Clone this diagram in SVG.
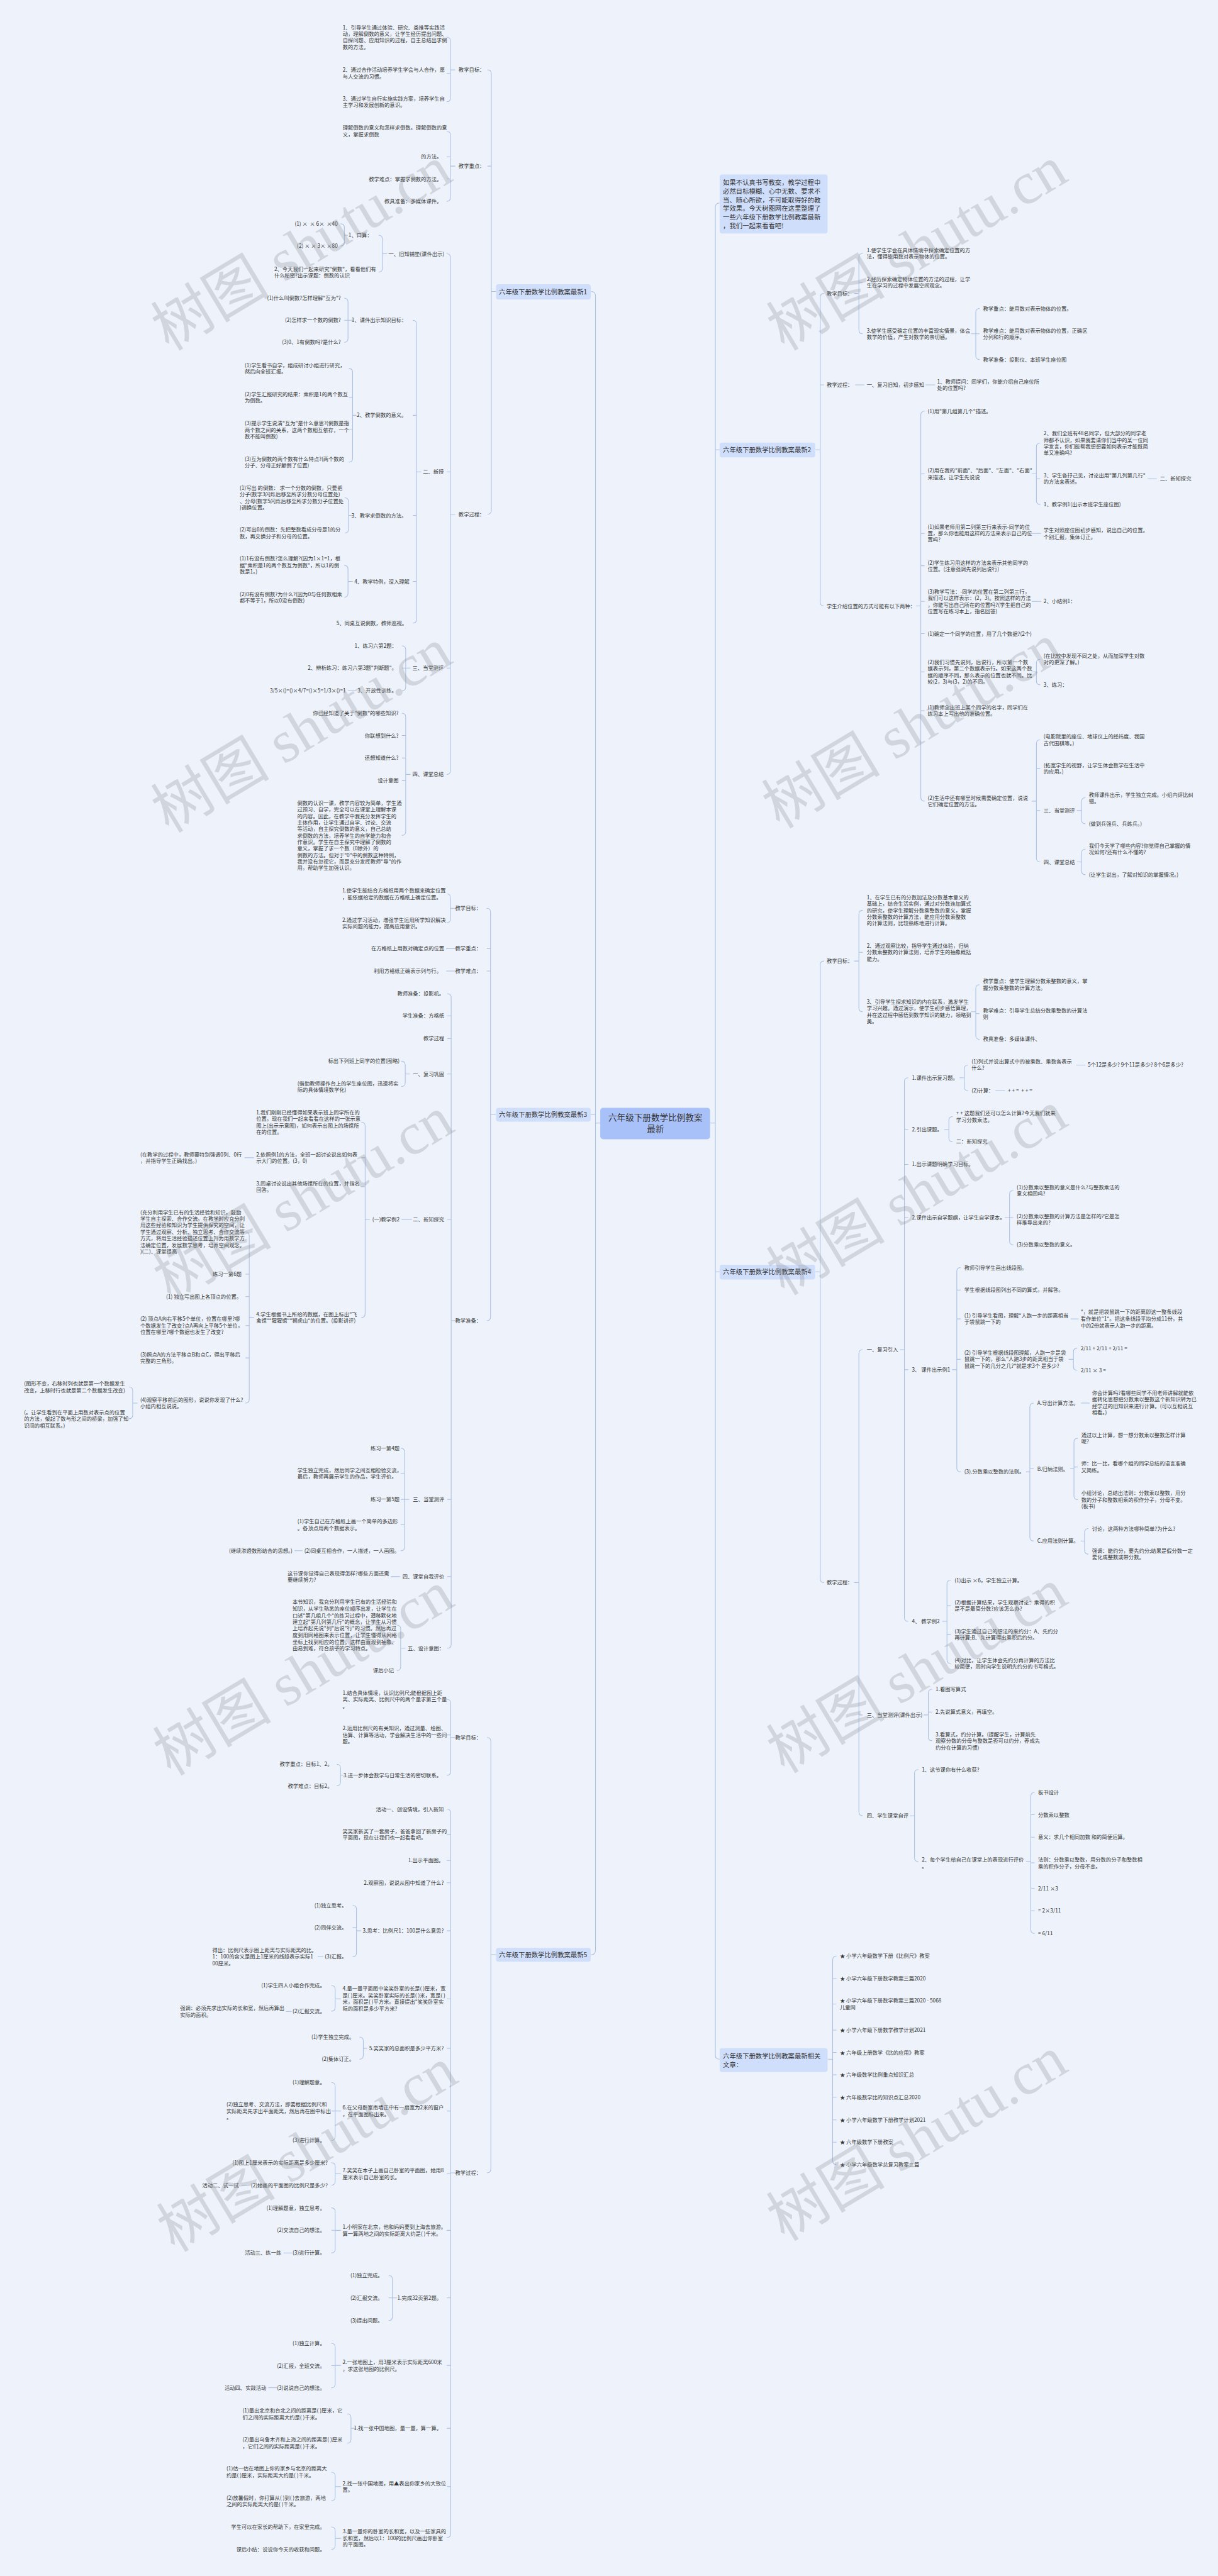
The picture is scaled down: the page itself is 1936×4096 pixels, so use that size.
<svg xmlns="http://www.w3.org/2000/svg" width="1936" height="4096" viewBox="0 0 1936 4096">
<style>
.t{font-family:"Noto Sans CJK SC","Noto Sans",sans-serif;font-size:11px;fill:#333}
.e{text-anchor:end}
.m{font-size:13.7px}
.c{font-size:18px;text-anchor:middle}
.p{white-space:pre}
.l path{fill:none;stroke:#a9c0e4;stroke-width:1.4}
.nb{fill:#cfdefb}
.w{font-family:"Liberation Serif","Noto Sans CJK SC",serif;font-size:125px;fill:#8d939c;opacity:.3;text-anchor:middle}
</style>
<rect width="1936" height="4096" fill="#eef3fb"/>
<g transform="scale(0.756)">
<g id="connectors" class="l">
<path d="M1262 2362H1252M1243 613Q1252 613 1252 622V4102Q1252 4111 1243 4111M1252 2344H1242"/>
<path d="M1493 2362H1504M1513 427Q1504 427 1504 436V4322Q1504 4331 1513 4331M1504 946H1513M1504 2675H1513"/>
<path d="M1033 613h10M1025 147Q1033 147 1033 155V1073.4Q1033 1081.4 1025 1081.4M1033 349.4h-8"/>
<path d="M947 147h10M939 78Q947 78 947 86V206Q947 214 939 214M947 154h-8"/>
<path d="M947 349.4h10M939 276Q947 276 947 284V415.5Q947 423.5 939 423.5M947 329.7h-8M947 376.3h-8"/>
<path d="M947 1081.4h10M939 533.7Q947 533.7 947 541.7V1620.8Q947 1628.8 939 1628.8M947 992.5h-8M947 1405h-8"/>
<path d="M804 533.7h10M796 494.8Q804 494.8 804 502.8V564Q804 572 796 572"/>
<path d="M724 494.8h8M716 470.7Q724 470.7 724 478.7V509.3Q724 517.3 716 517.3"/>
<path d="M875.7 992.5h10M867.7 673.6Q875.7 673.6 875.7 681.6V1302.6Q875.7 1310.6 867.7 1310.6M875.7 873.5h-8M875.7 1084h-8M875.7 1222.9h-8"/>
<path d="M731.7 673.6h10M723.7 627Q731.7 627 731.7 635V712Q731.7 720 723.7 720M731.7 673.6h-8"/>
<path d="M741.4 873.5h8M733.4 775Q741.4 775 741.4 783V964Q741.4 972 733.4 972M741.4 836h-8M741.4 904h-8"/>
<path d="M732.7 1084h10M724.7 1047Q732.7 1047 732.7 1055V1113Q732.7 1121 724.7 1121"/>
<path d="M731.7 1222.9h10M723.7 1189Q731.7 1189 731.7 1197V1248Q731.7 1256 723.7 1256"/>
<path d="M853 1405h10M845 1358.4Q853 1358.4 853 1366.4V1444.7Q853 1452.7 845 1452.7M853 1405h-8"/>
<path d="M731 1452.7H748"/>
<path d="M853 1628.8h10M845 1500Q853 1500 853 1508V1749Q853 1757 845 1757M853 1547h-8M853 1594.3h-8M853 1642h-8"/>
<path d="M1031.4 2344h11M1023.4 1910.5Q1031.4 1910.5 1031.4 1918.5V2769.7Q1031.4 2777.7 1023.4 2777.7M1031.4 1995.3h-8M1031.4 2042.4h-8"/>
<path d="M947 1910.5h10M939 1880Q947 1880 947 1888V1933Q947 1941 939 1941"/>
<path d="M938 1995.3H957M938 2042.4H957"/>
<path d="M948.6 2777.7h10M940.6 2090Q948.6 2090 948.6 2098V3458.5Q948.6 3466.5 940.6 3466.5M948.6 2136.7h-8M948.6 2184.4h-8M948.6 2259h-8M948.6 2564.9h-8M948.6 3153.7h-8M948.6 3316h-8"/>
<path d="M852 2259h10M844 2232Q852 2232 852 2240V2277Q852 2285 844 2285"/>
<path d="M844 2564.9H866"/>
<path d="M767.7 2564.9h10M759.7 2360Q767.7 2360 767.7 2368V2763Q767.7 2771 759.7 2771M767.7 2435h-8M767.7 2496h-8"/>
<path d="M514 2435H534"/>
<path d="M524 2771h10M516 2591Q524 2591 524 2599V2943Q524 2951 516 2951M524 2680h-8M524 2727.2h-8M524 2788h-8M524 2856h-8"/>
<path d="M279 2951h10M271 2917Q279 2917 279 2925V2976Q279 2984 271 2984"/>
<path d="M850.5 3153.7h10M842.5 3045.8Q850.5 3045.8 850.5 3053.8V3253.6Q850.5 3261.6 842.5 3261.6M850.5 3099h-8M850.5 3153.7h-8M850.5 3207h-8"/>
<path d="M619 3261.6H636M821.5 3316H841"/>
<path d="M842.4 3466.5h10M834.4 3418Q842.4 3418 842.4 3426V3505.6Q842.4 3513.6 834.4 3513.6"/>
<path d="M1032 4111h11M1024 3654.4Q1032 3654.4 1032 3662.4V4562Q1032 4570 1024 4570"/>
<path d="M947.5 3654.4h10M939.5 3574Q947.5 3574 947.5 3582V3725.75Q947.5 3733.75 939.5 3733.75M947.5 3649h-8"/>
<path d="M716 3733.75h6M708 3710.6Q716 3710.6 716 3718.6V3748Q716 3756 708 3756"/>
<path d="M947.5 4570h10M939.5 3805Q947.5 3805 947.5 3813V5329Q947.5 5337 939.5 5337M947.5 3859h-8M947.5 3913h-8M947.5 3960h-8M947.5 4061h-8M947.5 4204h-8M947.5 4308h-8M947.5 4440h-8M947.5 4572h-8M947.5 4691h-8M947.5 4833h-8M947.5 4975h-8M947.5 5107.3h-8M947.5 5230h-8"/>
<path d="M749.5 4061h10M741.5 4007.5Q749.5 4007.5 749.5 4015.5V4107.6Q749.5 4115.6 741.5 4115.6M749.5 4054.4h-8"/>
<path d="M668 4115.6H680"/>
<path d="M704.7 4204h12M696.7 4176Q704.7 4176 704.7 4184V4222Q704.7 4230 696.7 4230"/>
<path d="M601 4230.6H613"/>
<path d="M763.8 4308h8M755.8 4284.4Q763.8 4284.4 763.8 4292.4V4323Q763.8 4331 755.8 4331"/>
<path d="M704.7 4440h12M696.7 4380Q704.7 4380 704.7 4388V4493.6Q704.7 4501.6 696.7 4501.6M704.7 4440h-8"/>
<path d="M704.7 4572h12M696.7 4548.8Q704.7 4548.8 704.7 4556.8V4588Q704.7 4596 696.7 4596"/>
<path d="M508 4596H527"/>
<path d="M704.7 4691h12M696.7 4643.7Q704.7 4643.7 704.7 4651.7V4730.6Q704.7 4738.6 696.7 4738.6M704.7 4690.9h-8"/>
<path d="M596 4738.6H614"/>
<path d="M825 4833h10M817 4785.8Q825 4785.8 825 4793.8V4872.7Q825 4880.7 817 4880.7M825 4833h-8"/>
<path d="M704.7 4975h12M696.7 4928.5Q704.7 4928.5 704.7 4936.5V5014Q704.7 5022 696.7 5022M704.7 4975.6h-8"/>
<path d="M564 5022H582"/>
<path d="M738 5107.3h10M730 5077Q738 5077 738 5085V5130.5Q738 5138.5 730 5138.5"/>
<path d="M704.7 5230h12M696.7 5199.7Q704.7 5199.7 704.7 5207.7V5251.7Q704.7 5259.7 696.7 5259.7"/>
<path d="M704.7 5338.8h12M696.7 5314.9Q704.7 5314.9 704.7 5322.9V5354Q704.7 5362 696.7 5362"/>
<path d="M1724.5 946h-10M1732.5 617.2Q1724.5 617.2 1724.5 625.2V1266.5Q1724.5 1274.5 1732.5 1274.5M1724.5 809.6h8"/>
<path d="M1805.8 617.2h-10M1813.8 533Q1805.8 533 1805.8 541V694Q1805.8 702 1813.8 702M1805.8 594h8"/>
<path d="M2051.6 702h-10M2059.6 648.9Q2051.6 648.9 2051.6 656.9V748Q2051.6 756 2059.6 756M2051.6 702h8"/>
<path d="M1798 809.6H1817M1946 809.6H1966"/>
<path d="M1936 1274.5h-10M1944 864.7Q1936 864.7 1936 872.7V1677Q1936 1685 1944 1685M1936 996.6h8M1936 1122h8M1936 1190h8M1936 1265h8M1936 1332.7h8M1936 1413h8M1936 1494.6h8"/>
<path d="M2179 996.6h-10M2187 932Q2179 932 2179 940V1053Q2179 1061 2187 1061M2179 1007h8"/>
<path d="M2413 1007H2432M2169 1122H2189M2169 1265H2189"/>
<path d="M2179 1413h-10M2187 1386.5Q2179 1386.5 2179 1394.5V1432.3Q2179 1440.3 2187 1440.3"/>
<path d="M2179 1685h-10M2187 1556Q2179 1556 2179 1564V1804.8Q2179 1812.8 2187 1812.8M2179 1616.6h8M2179 1704.6h8"/>
<path d="M2274 1704.6h-10M2282 1678Q2274 1678 2274 1686V1724.7Q2274 1732.7 2282 1732.7"/>
<path d="M2274 1812.8h-10M2282 1786Q2274 1786 2274 1794V1831.8Q2274 1839.8 2282 1839.8"/>
<path d="M1724.5 2675h-10M1732.5 2021.3Q1724.5 2021.3 1724.5 2029.3V3320.5Q1724.5 3328.5 1732.5 3328.5"/>
<path d="M1805.8 2021.3h-10M1813.8 1914.5Q1805.8 1914.5 1805.8 1922.5V2120Q1805.8 2128 1813.8 2128M1805.8 2003h8"/>
<path d="M2051.6 2128h-10M2059.6 2071Q2051.6 2071 2051.6 2079V2177.8Q2051.6 2185.8 2059.6 2185.8M2051.6 2132h8"/>
<path d="M1805.8 3328.5h-10M1813.8 2838.7Q1805.8 2838.7 1805.8 2846.7V3811Q1805.8 3819 1813.8 3819M1805.8 3607h8"/>
<path d="M1901.5 2838.7h-10M1909.5 2266.8Q1901.5 2266.8 1901.5 2274.8V3402Q1901.5 3410 1909.5 3410M1901.5 2375.3h8M1901.5 2449h8M1901.5 2560.8h8M1901.5 2880.8h8"/>
<path d="M2027.5 2266.8h-10M2035.5 2240Q2027.5 2240 2027.5 2248V2286Q2027.5 2294 2035.5 2294"/>
<path d="M2263 2240H2282M2093 2294H2113"/>
<path d="M1995 2375.3h-10M2003 2348.5Q1995 2348.5 1995 2356.5V2393.4Q1995 2401.4 2003 2401.4"/>
<path d="M2122.6 2560.8h-10M2130.6 2503.7Q2122.6 2503.7 2122.6 2511.7V2610Q2122.6 2618 2130.6 2618M2122.6 2560.8h8"/>
<path d="M2011.7 2880.8h-10M2019.7 2666Q2011.7 2666 2011.7 2674V3087.7Q2011.7 3095.7 2019.7 3095.7M2011.7 2713.3h8M2011.7 2774h8M2011.7 2859h8"/>
<path d="M2251 2774H2268"/>
<path d="M2256.9 2859h-10M2264.9 2835.5Q2256.9 2835.5 2256.9 2843.5V2874Q2256.9 2882 2264.9 2882"/>
<path d="M2165.3 3095.7h-8M2173.3 2951Q2165.3 2951 2165.3 2959V3233Q2165.3 3241 2173.3 3241M2165.3 3089.3h8"/>
<path d="M2273 2951H2291"/>
<path d="M2258 3089.3h-8M2266 3025Q2258 3025 2258 3033V3146Q2258 3154 2266 3154M2258 3085.5h8"/>
<path d="M2280.3 3241h-8M2288.3 3215Q2280.3 3215 2280.3 3223V3260.7Q2280.3 3268.7 2288.3 3268.7"/>
<path d="M1991 3410h-10M1999 3323.4Q1991 3323.4 1991 3331.4V3490.7Q1991 3498.7 1999 3498.7M1991 3377h8M1991 3438h8"/>
<path d="M1951.8 3607h-10M1959.8 3553Q1951.8 3553 1951.8 3561V3653Q1951.8 3661 1959.8 3661M1951.8 3600.8h8"/>
<path d="M1922.8 3819h-10M1930.8 3722Q1922.8 3722 1922.8 3730V3907Q1922.8 3915 1930.8 3915"/>
<path d="M2167.3 3915h-10M2175.3 3769.8Q2167.3 3769.8 2167.3 3777.8V4058.5Q2167.3 4066.5 2175.3 4066.5M2167.3 3816.8h8M2167.3 3864h8M2167.3 3918h8M2167.3 3971.8h8M2167.3 4018.9h8"/>
<path d="M1750.7 4331h-10M1758.7 4114.2Q1750.7 4114.2 1750.7 4122.2V4544.8Q1750.7 4552.8 1758.7 4552.8M1750.7 4161.3h8M1750.7 4215h8M1750.7 4269.8h8M1750.7 4316.8h8M1750.7 4363.9h8M1750.7 4411h8M1750.7 4458.6h8M1750.7 4505.7h8"/>
</g>

<g id="center"><rect x="1262" y="2330" width="231" height="66" rx="6" fill="#a8c2f9"/><text class="t c" x="1378" y="2356.5">六年级下册数学比例教案</text><text class="t c" x="1378" y="2381.5">最新</text></g>
<g id="intro"><rect class="nb" x="1513" y="367" width="227" height="124" rx="5"/><text class="t m"><tspan x="1520" y="388.6">如果不认真书写教案，教学过程中</tspan><tspan x="1520" y="407">必然目标模糊、心中无数、要求不</tspan><tspan x="1520" y="425.3">当、随心所欲，不可能取得好的教</tspan><tspan x="1520" y="443.7">学效果。今天树图网在这里整理了</tspan><tspan x="1520" y="462">一些六年级下册数学比例教案最新</tspan><tspan x="1520" y="480.4">，我们一起来看看吧!</tspan></text></g>
<g id="n1"><rect class="nb" x="1043" y="598" width="199" height="32" rx="5"/><text class="t m" x="1049" y="618.5">六年级下册数学比例教案最新1</text></g>
<g id="n3"><rect class="nb" x="1043" y="2330" width="199" height="29" rx="5"/><text class="t m" x="1049" y="2349">六年级下册数学比例教案最新3</text></g>
<g id="n5"><rect class="nb" x="1043" y="4097" width="199" height="29" rx="5"/><text class="t m" x="1049" y="4116">六年级下册数学比例教案最新5</text></g>
<g id="n2"><rect class="nb" x="1513" y="931" width="201" height="31" rx="5"/><text class="t m" x="1520" y="951">六年级下册数学比例教案最新2</text></g>
<g id="n4"><rect class="nb" x="1513" y="2660" width="201" height="31" rx="5"/><text class="t m" x="1520" y="2680">六年级下册数学比例教案最新4</text></g>
<g id="n6"><rect class="nb" x="1513" y="4308" width="227" height="50" rx="5"/><text class="t m"><tspan x="1520" y="4330">六年级下册数学比例教案最新相关</tspan><tspan x="1520" y="4348">文章：</tspan></text></g>

<g id="s1">
<text id="a1" class="t e" x="1019" y="151">教学目标：</text>
<text id="a2" class="t"><tspan x="720.5" y="61.6">1、引导学生通过体验、研究、类推等实践活</tspan><tspan x="720.5" y="75.3">动，理解倒数的意义，让学生经历提出问题、</tspan><tspan x="720.5" y="89">自探问题、应用知识的过程，自主总结出求倒</tspan><tspan x="720.5" y="102.7">数的方法。</tspan></text>
<text id="a3" class="t"><tspan x="720.5" y="151">2、通过合作活动培养学生学会与人合作，愿</tspan><tspan x="720.5" y="164.7">与人交流的习惯。</tspan></text>
<text id="a4" class="t"><tspan x="720.5" y="211.4">3、通过学生自行实施实践方案，培养学生自</tspan><tspan x="720.5" y="225">主学习和发展创新的意识。</tspan></text>
<text id="a5" class="t e" x="1019" y="353.4">教学重点：</text>
<text id="a6" class="t"><tspan x="720.5" y="272.8">理解倒数的意义和怎样求倒数。理解倒数的意</tspan><tspan x="720.5" y="286.5">义，掌握求倒数</tspan></text>
<text id="a7" class="t e" x="929" y="333.7">的方法。</text>
<text id="a8" class="t e" x="929" y="380.3">教学难点：掌握求倒数的方法。</text>
<text id="a9" class="t e" x="929" y="427.5">教具准备：多媒体课件。</text>
<text id="a10" class="t e" x="1019" y="1085.4">教学过程：</text>
<text id="a11" class="t e" x="934" y="537.7">一、旧知铺垫(课件出示)</text>
<text id="a12" class="t e" x="782.6" y="498.8">1、口算：</text>
<text id="a13" class="t e p" x="710" y="474.7">(1) ×  × 6×  ×40</text>
<text id="a14" class="t e p" x="710" y="521.3">(2) × × 3× ×80</text>
<text id="a15" class="t"><tspan x="576.6" y="569.6">2、今天我们一起来研究"倒数"，看看他们有</tspan><tspan x="576.6" y="583.3">什么秘密?出示课题：倒数的认识</tspan></text>
<text id="a16" class="t e" x="933" y="996.5">二、新授</text>
<text id="a17" class="t e" x="855" y="677.6">1、课件出示知识目标：</text>
<text id="a18" class="t e" x="716.7" y="631">(1)什么叫倒数?怎样理解"互为"?</text>
<text id="a19" class="t e" x="716.7" y="677.6">(2)怎样求一个数的倒数?</text>
<text id="a20" class="t e" x="716.7" y="724">(3)0、1有倒数吗?是什么?</text>
<text id="a21" class="t e" x="855" y="877.5">2、教学倒数的意义。</text>
<text id="a22" class="t"><tspan x="514.5" y="772">(1)学生看书自学，组成研讨小组进行研究，</tspan><tspan x="514.5" y="785.7">然后向全班汇报。</tspan></text>
<text id="a23" class="t"><tspan x="514.5" y="833.4">(2)学生汇报研究的结果：乘积是1的两个数互</tspan><tspan x="514.5" y="847">为倒数。</tspan></text>
<text id="a24" class="t"><tspan x="514.5" y="894.5">(3)提示学生说清"互为"是什么意思?(倒数是指</tspan><tspan x="514.5" y="908.3">两个数之间的关系，这两个数相互依存，一个</tspan><tspan x="514.5" y="922">数不能叫倒数)</tspan></text>
<text id="a25" class="t"><tspan x="514.5" y="969">(3)互为倒数的两个数有什么特点?(两个数的</tspan><tspan x="514.5" y="982.8">分子、分母正好颠倒了位置)</tspan></text>
<text id="a26" class="t e" x="855" y="1088">3、教学求倒数的方法。</text>
<text id="a27" class="t"><tspan x="503.9" y="1030.5">(1)写出 的倒数： 求一个分数的倒数，只要把</tspan><tspan x="503.9" y="1044.2">分子(数字3闪烁后移至所求分数分母位置处)</tspan><tspan x="503.9" y="1057.9">、分母(数字5闪烁后移至所求分数分子位置处</tspan><tspan x="503.9" y="1071.6">)调换位置。</tspan></text>
<text id="a28" class="t"><tspan x="503.9" y="1118.3">(2)写出6的倒数：先把整数看成分母是1的分</tspan><tspan x="503.9" y="1132">数，再交换分子和分母的位置。</tspan></text>
<text id="a29" class="t e" x="861" y="1226.9">4、教学特例，深入理解</text>
<text id="a30" class="t"><tspan x="503.9" y="1179.2">(1)1有没有倒数?怎么理解?(因为1×1=1，根</tspan><tspan x="503.9" y="1192.9">据"乘积是1的两个数互为倒数"，所以1的倒</tspan><tspan x="503.9" y="1206.6">数是1。)</tspan></text>
<text id="a31" class="t"><tspan x="503.9" y="1253.8">(2)0有没有倒数?为什么?(因为0与任何数相乘</tspan><tspan x="503.9" y="1267.5">都不等于1，所以0没有倒数)</tspan></text>
<text id="a32" class="t e" x="856" y="1314.6">5、同桌互说倒数，教师巡视。</text>
<text id="a33" class="t e" x="933" y="1409">三、当堂测评</text>
<text id="a34" class="t e" x="834.5" y="1362.4">1、练习六第2题：</text>
<text id="a35" class="t e" x="834.5" y="1409">2、辨析练习：练习六第3题"判断题"。</text>
<text id="a36" class="t e" x="834.5" y="1456.7">3、开放性训练。</text>
<text id="a37" class="t e" x="727" y="1456.7">3/5×()=()×4/7=()×5=1/3×()=1</text>
<text id="a38" class="t e" x="933" y="1632.8">四、课堂总结</text>
<text id="a39" class="t e" x="838" y="1504">你已经知道了关于"倒数"的哪些知识?</text>
<text id="a40" class="t e" x="838" y="1551">你联想到什么?</text>
<text id="a41" class="t e" x="838" y="1598.3">还想知道什么?</text>
<text id="a42" class="t e" x="838" y="1646">设计意图</text>
<text id="a43" class="t"><tspan x="625" y="1693">倒数的认识一课，教学内容较为简单，学生通</tspan><tspan x="625" y="1706.7">过预习、自学，完全可以在课堂上理解本课</tspan><tspan x="625" y="1720.4">的内容。因此，在教学中我充分发挥学生的</tspan><tspan x="625" y="1734.1">主体作用，让学生通过自学、讨论、交流</tspan><tspan x="625" y="1747.8">等活动，自主探究倒数的意义，自己总结</tspan><tspan x="625" y="1761.5">求倒数的方法，培养学生的自学能力和合</tspan><tspan x="625" y="1775.2">作意识。学生在自主探究中理解了倒数的</tspan><tspan x="625" y="1788.9">意义，掌握了求一个数（0除外）的</tspan><tspan x="625" y="1802.6">倒数的方法。但对于"0"中的倒数这种特例，</tspan><tspan x="625" y="1816.3">我并没有忽视它，而是充分发挥教师"导"的作</tspan><tspan x="625" y="1830">用，帮助学生加强认识。</tspan></text>
</g>

<g id="s3">
<text id="b1" class="t e" x="1012" y="1914.5">教学目标：</text>
<text id="b2" class="t"><tspan x="719.5" y="1877.5">1.使学生能结合方格纸用两个数据来确定位置</tspan><tspan x="719.5" y="1891">，能依据给定的数据在方格纸上确定位置。</tspan></text>
<text id="b3" class="t"><tspan x="719.5" y="1938.7">2.通过学习活动，增强学生运用所学知识解决</tspan><tspan x="719.5" y="1952.7">实际问题的能力，提高应用意识。</tspan></text>
<text id="b4" class="t e" x="1012" y="1999.3">教学重点：</text>
<text id="b5" class="t e" x="934" y="1999.3">在方格纸上用数对确定点的位置</text>
<text id="b6" class="t e" x="1012" y="2046.4">教学难点：</text>
<text id="b7" class="t e" x="928.5" y="2046.4">利用方格纸正确表示列与行。</text>
<text id="b8" class="t e" x="1012" y="2781.7">教学准备：</text>
<text id="b9" class="t e" x="934" y="2094">教师准备：投影机。</text>
<text id="b10" class="t e" x="934" y="2140.7">学生准备：方格纸</text>
<text id="b11" class="t e" x="934" y="2188.4">教学过程</text>
<text id="b12" class="t e" x="934" y="2263">一、复习巩固</text>
<text id="b13" class="t e" x="840" y="2236">标出下列班上同学的位置(图略)</text>
<text id="b14" class="t"><tspan x="625.4" y="2282.7">(借助教师操作台上的学生座位图，迅速将实</tspan><tspan x="625.4" y="2296">际的具体情境数学化)</tspan></text>
<text id="b15" class="t e" x="934" y="2568.9">二、新知探究</text>
<text id="b16" class="t e" x="840" y="2568.9">(一)教学例2</text>
<text id="b17" class="t"><tspan x="538.6" y="2343.8">1.我们刚刚已经懂得如果表示班上同学所在的</tspan><tspan x="538.6" y="2357.3">位置。现在我们一起来看看在这样的一张示意</tspan><tspan x="538.6" y="2371.3">图上(出示示意图)，如何表示出图上的场馆所</tspan><tspan x="538.6" y="2384.8">在的位置。</tspan></text>
<text id="b18" class="t"><tspan x="538.6" y="2432.5">2.依照例1的方法，全班一起讨论说出如何表</tspan><tspan x="538.6" y="2446">示大门的位置。(3，0)</tspan></text>
<text id="b19" class="t"><tspan x="295" y="2432.5">(在教学的过程中，教师要特别强调0列、0行</tspan><tspan x="295" y="2446">，并指导学生正确找出。)</tspan></text>
<text id="b20" class="t"><tspan x="538.6" y="2493">3.同桌讨论说出其他场馆所在的位置，并指名</tspan><tspan x="538.6" y="2506.6">回答。</tspan></text>
<text id="b21" class="t"><tspan x="538.6" y="2768.5">4.学生根据书上所给的数据，在图上标出"飞</tspan><tspan x="538.6" y="2782">禽馆""猩猩馆""狮虎山"的位置。(投影讲评)</tspan></text>
<text id="b22" class="t"><tspan x="295" y="2553.7">(充分利用学生已有的生活经验和知识，鼓励</tspan><tspan x="295" y="2567.8">学生自主探索、合作交流。在教学时应充分利</tspan><tspan x="295" y="2581.2">用这些经验和知识为学生提供探究的空间，让</tspan><tspan x="295" y="2594.7">学生通过观察、分析、独立思考、合作交流等</tspan><tspan x="295" y="2608.7">方式，将用生活经验描述位置上升为用数学方</tspan><tspan x="295" y="2622.7">法确定位置，发展数学思考，培养空间观念。</tspan><tspan x="295" y="2636.2">)(二)、课堂提高</tspan></text>
<text id="b23" class="t e" x="508" y="2684">练习一第6题</text>
<text id="b24" class="t e" x="508" y="2731.2">(1) 独立写出图上各顶点的位置。</text>
<text id="b25" class="t"><tspan x="295" y="2778.2">(2) 顶点A向右平移5个单位，位置在哪里?哪</tspan><tspan x="295" y="2792">个数据发生了改变?点A再向上平移5个单位，</tspan><tspan x="295" y="2805.8">位置在哪里?哪个数据也发生了改变?</tspan></text>
<text id="b26" class="t"><tspan x="295" y="2852.9">(3)照点A的方法平移点B和点C，得出平移后</tspan><tspan x="295" y="2866.6">完整的三角形。</tspan></text>
<text id="b27" class="t"><tspan x="295" y="2948">(4)观察平移前后的图形，说说你发现了什么?</tspan><tspan x="295" y="2962">小组内相互说说。</tspan></text>
<text id="b28" class="t"><tspan x="50.6" y="2913.7">(图形不变，右移时列也就是第一个数据发生</tspan><tspan x="50.6" y="2928">改变，上移时行也就是第二个数据发生改变)</tspan></text>
<text id="b29" class="t"><tspan x="50.6" y="2974.6">(。让学生看到在平面上用数对表示点的位置</tspan><tspan x="50.6" y="2988.3">的方法，架起了数与形之间的桥梁，加强了知</tspan><tspan x="50.6" y="3002">识间的相互联系。)</tspan></text>
<text id="b30" class="t e" x="934" y="3157.7">三、当堂测评</text>
<text id="b31" class="t e" x="840" y="3049.8">练习一第4题</text>
<text id="b32" class="t"><tspan x="625.4" y="3096.3">学生独立完成，然后同学之间互相检验交流，</tspan><tspan x="625.4" y="3110">最后，教师再展示学生的作品，学生评价。</tspan></text>
<text id="b33" class="t e" x="840" y="3157.7">练习一第5题</text>
<text id="b34" class="t"><tspan x="625.4" y="3204">(1)学生自己在方格纸上画一个简单的多边形</tspan><tspan x="625.4" y="3218.5">。各顶点用两个数据表示。</tspan></text>
<text id="b35" class="t e" x="840" y="3265.6">(2)同桌互相合作，一人描述，一人画图。</text>
<text id="b36" class="t e" x="615" y="3265.6">(继续渗透数形结合的思想。)</text>
<text id="b37" class="t e" x="934" y="3320">四、课堂自我评价</text>
<text id="b38" class="t"><tspan x="604.5" y="3313">这节课你觉得自己表现得怎样?哪些方面还需</tspan><tspan x="604.5" y="3327">要继续努力?</tspan></text>
<text id="b39" class="t e" x="934" y="3470.5">五、设计意图：</text>
<text id="b40" class="t"><tspan x="615" y="3373.5">本节知识，我充分利用学生已有的生活经验和</tspan><tspan x="615" y="3387.3">知识，从学生熟悉的座位顺序出发，让学生在</tspan><tspan x="615" y="3401.7">口述"第几组几个"的练习过程中，潜移默化地</tspan><tspan x="615" y="3415.4">建立起"第几列第几行"的概念，让学生从习惯</tspan><tspan x="615" y="3429.2">上培养起先说"列"后说"行"的习惯。然后再过</tspan><tspan x="615" y="3443">度到用网格图来表示位置，让学生懂得从网格</tspan><tspan x="615" y="3457.3">坐标上找到相应的位置。这样由直观到抽象、</tspan><tspan x="615" y="3471">由易到难，符合孩子的学习特点。</tspan></text>
<text id="b41" class="t e" x="828" y="3517.6">课后小记</text>
</g>

<g id="s5">
<text id="c1" class="t e" x="1012" y="3658.4">教学目标：</text>
<text id="c2" class="t"><tspan x="720.2" y="3564.6">1.结合具体情境，认识比例尺;能根据图上距</tspan><tspan x="720.2" y="3578.4">离、实际距离、比例尺中的两个量求第三个量</tspan><tspan x="720.2" y="3592">。</tspan></text>
<text id="c3" class="t"><tspan x="720.2" y="3639">2.运用比例尺的有关知识，通过测量、绘图、</tspan><tspan x="720.2" y="3652.8">估算、计算等活动，学会解决生活中的一些问</tspan><tspan x="720.2" y="3666.5">题。</tspan></text>
<text id="c4" class="t e" x="928.6" y="3737.75">3.进一步体会数学与日常生活的密切联系。</text>
<text id="c5" class="t e" x="699" y="3714.6">教学重点：目标1、2。</text>
<text id="c6" class="t e" x="699" y="3760">教学难点：目标2。</text>
<text id="c7" class="t e" x="1012" y="4574">教学过程：</text>
<text id="c8" class="t e" x="933" y="3809">活动一、创设情境，引入新知</text>
<text id="c9" class="t"><tspan x="720.2" y="3855.9">笑笑家新买了一套房子，爸爸拿回了新房子的</tspan><tspan x="720.2" y="3869.6">平面图，现在让我们也一起看看吧。</tspan></text>
<text id="c10" class="t e" x="933" y="3917">1.出示平面图。</text>
<text id="c11" class="t e" x="933" y="3964">2.观察图，说说从图中知道了什么?</text>
<text id="c12" class="t e" x="933" y="4065">3.思考：比例尺1：100是什么意思?</text>
<text id="c13" class="t e" x="729.4" y="4011.5">(1)独立思考。</text>
<text id="c14" class="t e" x="729.4" y="4058.4">(2)同伴交流。</text>
<text id="c15" class="t e" x="729.4" y="4119.6">(3)汇报。</text>
<text id="c16" class="t"><tspan x="446.4" y="4105.9">得出：比例尺表示图上距离与实际距离的比。</tspan><tspan x="446.4" y="4119.6">1：100的含义是图上1厘米的线段表示实际1</tspan><tspan x="446.4" y="4133.4">00厘米。</tspan></text>
<text id="c17" class="t"><tspan x="720.2" y="4187">4.量一量平面图中笑笑卧室的长是( )厘米，宽</tspan><tspan x="720.2" y="4200.9">是( )厘米。笑笑卧室实际的长是( )米，宽是( )</tspan><tspan x="720.2" y="4214.6">米，面积是( )平方米。直接提出"笑笑卧室实</tspan><tspan x="720.2" y="4228.4">际的面积是多少平方米?</tspan></text>
<text id="c18" class="t e" x="683.5" y="4180">(1)学生四人小组合作完成。</text>
<text id="c19" class="t e" x="683.5" y="4234">(2)汇报交流。</text>
<text id="c20" class="t"><tspan x="378.6" y="4227.75">强调：必须先求出实际的长和宽，然后再算出</tspan><tspan x="378.6" y="4241.5">实际的面积。</tspan></text>
<text id="c21" class="t e" x="933" y="4312">5.笑笑家的总面积是多少平方米?</text>
<text id="c22" class="t e" x="745" y="4288.4">(1)学生独立完成。</text>
<text id="c23" class="t e" x="745" y="4335">(2)集体订正。</text>
<text id="c24" class="t"><tspan x="720.2" y="4437">6.在父母卧室南墙正中有一扇宽为2米的窗户</tspan><tspan x="720.2" y="4450.9">，在平面图标出来。</tspan></text>
<text id="c25" class="t e" x="683.5" y="4384">(1)理解题意。</text>
<text id="c26" class="t"><tspan x="476.2" y="4430">(2)独立思考、交流方法，即要根据比例尺和</tspan><tspan x="476.2" y="4444">实际距离先求出平面距离，然后再在图中标出</tspan><tspan x="476.2" y="4457.75">。</tspan></text>
<text id="c27" class="t e" x="683.5" y="4505.6">(3)进行计算。</text>
<text id="c28" class="t"><tspan x="720.2" y="4569.3">7.笑笑在本子上画自己卧室的平面图，她用8</tspan><tspan x="720.2" y="4583.4">厘米表示自己卧室的长。</tspan></text>
<text id="c29" class="t e" x="689" y="4552.8">(1)图上1厘米表示的实际距离是多少厘米?</text>
<text id="c30" class="t e" x="689" y="4600">(2)她画的平面图的比例尺是多少?</text>
<text id="c31" class="t e" x="502" y="4600">活动二、试一试</text>
<text id="c32" class="t"><tspan x="720.2" y="4688">1.小明家在北京，他和妈妈要到上海去旅游。</tspan><tspan x="720.2" y="4702.2">算一算两地之间的实际距离大约是( )千米。</tspan></text>
<text id="c33" class="t e" x="683.5" y="4647.7">(1)理解题意，独立思考。</text>
<text id="c34" class="t e" x="683.5" y="4694.9">(2)交流自己的想法。</text>
<text id="c35" class="t e" x="683.5" y="4742.6">(3)进行计算。</text>
<text id="c36" class="t e" x="591.6" y="4742.6">活动三、练一练</text>
<text id="c37" class="t e" x="928.6" y="4837">1.完成32页第2题。</text>
<text id="c38" class="t e" x="805" y="4789.8">(1)独立完成。</text>
<text id="c39" class="t e" x="805" y="4837">(2)汇报交流。</text>
<text id="c40" class="t e" x="805" y="4884.7">(3)提出问题。</text>
<text id="c41" class="t"><tspan x="720.2" y="4972.3">2.一张地图上，用3厘米表示实际距离600米</tspan><tspan x="720.2" y="4986.3">，求这张地图的比例尺。</tspan></text>
<text id="c42" class="t e" x="683.5" y="4932.5">(1)独立计算。</text>
<text id="c43" class="t e" x="683.5" y="4979.6">(2)汇报，全班交流。</text>
<text id="c44" class="t e" x="683.5" y="5026">(3)说说自己的想法。</text>
<text id="c45" class="t e" x="560" y="5026">活动四、实践活动</text>
<text id="c46" class="t e" x="928.6" y="5111.3">1.找一张中国地图，量一量，算一算。</text>
<text id="c47" class="t"><tspan x="510" y="5074">(1)量出北京和台北之间的距离是( )厘米，它</tspan><tspan x="510" y="5088">们之间的实际距离大约是( )千米。</tspan></text>
<text id="c48" class="t"><tspan x="510" y="5135">(2)量出乌鲁木齐和上海之间的距离是( )厘米</tspan><tspan x="510" y="5149">，它们之间的实际距离是( )千米。</tspan></text>
<text id="c49" class="t"><tspan x="720.2" y="5227">2.找一张中国地图，用▲表出你家乡的大致位</tspan><tspan x="720.2" y="5241">置。</tspan></text>
<text id="c50" class="t"><tspan x="476.2" y="5196.4">(1)估一估在地图上你的家乡与北京的距离大</tspan><tspan x="476.2" y="5210.5">约是( )厘米，实际距离大约是( )千米。</tspan></text>
<text id="c51" class="t"><tspan x="476.2" y="5257.6">(2)放暑假时，你打算从( )到( )去旅游，两地</tspan><tspan x="476.2" y="5271.7">之间的实际距离大约是( )千米。</tspan></text>
<text id="c52" class="t"><tspan x="720.2" y="5328.7">3.量一量你的卧室的长和宽，以及一些家具的</tspan><tspan x="720.2" y="5342.8">长和宽，然后以1：100的比例尺画出你卧室</tspan><tspan x="720.2" y="5356.2">的平面图。</tspan></text>
<text id="c53" class="t e" x="683.5" y="5318.9">学生可以在家长的帮助下，在家里完成。</text>
<text id="c54" class="t e" x="683.5" y="5366">课后小结：说说你今天的收获和问题。</text>
</g>

<g id="s2">
<text id="d1" class="t" x="1738" y="621.2">教学目标：</text>
<text id="d2" class="t"><tspan x="1822.3" y="530.4">1.使学生学会在具体情境中探索确定位置的方</tspan><tspan x="1822.3" y="543.7">法，懂得能用数对表示物体的位置。</tspan></text>
<text id="d3" class="t"><tspan x="1822.3" y="591.7">2.经历探索确定物体位置的方法的过程，让学</tspan><tspan x="1822.3" y="605">生在学习的过程中发展空间观念。</tspan></text>
<text id="d4" class="t"><tspan x="1822.3" y="699.3">3.使学生感受确定位置的丰富现实情景，体会</tspan><tspan x="1822.3" y="712.6">数学的价值，产生对数学的亲切感。</tspan></text>
<text id="d5" class="t" x="2066.8" y="652.9">教学重点：能用数对表示物体的位置。</text>
<text id="d6" class="t"><tspan x="2066.8" y="699.3">教学难点：能用数对表示物体的位置，正确区</tspan><tspan x="2066.8" y="712.6">分列和行的顺序。</tspan></text>
<text id="d7" class="t" x="2066.8" y="760">教学准备：投影仪、本班学生座位图</text>
<text id="d8" class="t" x="1738" y="813.6">教学过程：</text>
<text id="d9" class="t" x="1822.3" y="813.6">一、复习旧知，初步感知</text>
<text id="d10" class="t"><tspan x="1970.4" y="807.5">1、教师提问：同学们，你能介绍自己座位所</tspan><tspan x="1970.4" y="820.7">处的位置吗?</tspan></text>
<text id="d11" class="t" x="1738" y="1278.5">学生介绍位置的方式可能有以下两种：</text>
<text id="d12" class="t" x="1950.4" y="868.7">(1)用"第几组第几个"描述。</text>
<text id="d13" class="t"><tspan x="1950.4" y="993.7">(2)用在我的"前面"、"后面"、"左面"、"右面"</tspan><tspan x="1950.4" y="1007.5">来描述。让学生先说说</tspan></text>
<text id="d14" class="t"><tspan x="2194.2" y="915.6">2、我们全班有48名同学，但大部分的同学老</tspan><tspan x="2194.2" y="929.4">师都不认识，如果我要请你们当中的某一位同</tspan><tspan x="2194.2" y="943.2">学发言，你们能帮我想想要如何表示才能既简</tspan><tspan x="2194.2" y="957">单又准确吗?</tspan></text>
<text id="d15" class="t"><tspan x="2194.2" y="1003.9">3、学生各抒己见，讨论出用"第几列第几行"</tspan><tspan x="2194.2" y="1017.7">的方法来表述。</tspan></text>
<text id="d16" class="t" x="2438.7" y="1011">二、新知探究</text>
<text id="d17" class="t" x="2194.2" y="1065">1、教学例1(出示本班学生座位图)</text>
<text id="d18" class="t"><tspan x="1950.4" y="1112.7">(1)如果老师用第二列第三行来表示-同学的位</tspan><tspan x="1950.4" y="1126">置，那么你也能用这样的方法来表示自己的位</tspan><tspan x="1950.4" y="1139.2">置吗?</tspan></text>
<text id="d19" class="t"><tspan x="2194.2" y="1119.3">学生对照座位图初步感知，说出自己的位置。</tspan><tspan x="2194.2" y="1133">个别汇报，集体订正。</tspan></text>
<text id="d20" class="t"><tspan x="1950.4" y="1187.2">(2)学生练习用这样的方法来表示其他同学的</tspan><tspan x="1950.4" y="1201">位置。(注意强调先说列后说行)</tspan></text>
<text id="d21" class="t"><tspan x="1950.4" y="1248.4">(3)教学写法：-同学的位置在第二列第三行，</tspan><tspan x="1950.4" y="1262.2">我们可以这样表示：(2，3)。按照这样的方法</tspan><tspan x="1950.4" y="1276">，你能写出自己所在的位置吗?(学生把自己的</tspan><tspan x="1950.4" y="1289.2">位置写在练习本上，指名回答)</tspan></text>
<text id="d22" class="t" x="2194.2" y="1268.3">2、小结例1：</text>
<text id="d23" class="t" x="1950.4" y="1336.7">(1)确定一个同学的位置，用了几个数据?(2个)</text>
<text id="d24" class="t"><tspan x="1950.4" y="1396.3">(2)我们习惯先说列，后说行，所以第一个数</tspan><tspan x="1950.4" y="1410">据表示列，第二个数据表示行。如果这两个数</tspan><tspan x="1950.4" y="1424">据的顺序不同，那么表示的位置也就不同。比</tspan><tspan x="1950.4" y="1437.7">较(2，3)与(3，2)的不同。</tspan></text>
<text id="d25" class="t"><tspan x="2194.2" y="1383.6">(在比较中发现不同之处，从而加深学生对数</tspan><tspan x="2194.2" y="1397.4">对的更深了解。)</tspan></text>
<text id="d26" class="t" x="2194.2" y="1444.3">3、练习：</text>
<text id="d27" class="t"><tspan x="1950.4" y="1491.8">(1)教师念出班上某个同学的名字，同学们在</tspan><tspan x="1950.4" y="1505.5">练习本上写出他的准确位置。</tspan></text>
<text id="d28" class="t"><tspan x="1950.4" y="1682">(2)生活中还有哪里时候需要确定位置，说说</tspan><tspan x="1950.4" y="1695.8">它们确定位置的方法。</tspan></text>
<text id="d29" class="t"><tspan x="2194.2" y="1553">(电影院里的座位、地球仪上的经纬度、我国</tspan><tspan x="2194.2" y="1566.8">古代围棋等。)</tspan></text>
<text id="d30" class="t"><tspan x="2194.2" y="1613.7">(拓宽学生的视野，让学生体会数学在生活中</tspan><tspan x="2194.2" y="1627.5">的应用。)</tspan></text>
<text id="d31" class="t" x="2194.2" y="1708.6">三、当堂测评</text>
<text id="d32" class="t"><tspan x="2289.2" y="1675.4">教师课件出示，学生独立完成。小组内评比纠</tspan><tspan x="2289.2" y="1689.2">错。</tspan></text>
<text id="d33" class="t" x="2289.2" y="1736.7">(做到兵强兵、兵练兵。)</text>
<text id="d34" class="t" x="2194.2" y="1816.8">四、课堂总结</text>
<text id="d35" class="t"><tspan x="2289.2" y="1783.6">我们今天学了哪些内容?你觉得自己掌握的情</tspan><tspan x="2289.2" y="1796.9">况如何?还有什么不懂的?</tspan></text>
<text id="d36" class="t" x="2289.2" y="1843.8">(让学生说出，了解对知识的掌握情况。)</text>
</g>

<g id="s4">
<text id="f1" class="t" x="1738" y="2025.3">教学目标：</text>
<text id="f2" class="t"><tspan x="1822.3" y="1891.4">1、在学生已有的分数加法及分数基本意义的</tspan><tspan x="1822.3" y="1904.8">基础上，结合生活实例，通过对分数连加算式</tspan><tspan x="1822.3" y="1918.8">的研究，使学生理解分数乘整数的意义，掌握</tspan><tspan x="1822.3" y="1932.2">分数乘整数的计算方法，能应用分数乘整数</tspan><tspan x="1822.3" y="1945.6">的计算法则，比较熟练地进行计算。</tspan></text>
<text id="f3" class="t"><tspan x="1822.3" y="1993.4">2、通过观察比较，指导学生通过体验，归纳</tspan><tspan x="1822.3" y="2006.8">分数乘整数的计算法则，培养学生的抽象概括</tspan><tspan x="1822.3" y="2020.8">能力。</tspan></text>
<text id="f4" class="t"><tspan x="1822.3" y="2111.4">3、引导学生探求知识的内在联系，激发学生</tspan><tspan x="1822.3" y="2124.8">学习兴趣。通过演示，使学生初步感悟算理，</tspan><tspan x="1822.3" y="2138.8">并在这过程中感悟到数学知识的魅力，领略到</tspan><tspan x="1822.3" y="2152.2">美。</tspan></text>
<text id="f5" class="t"><tspan x="2066.8" y="2068">教学重点：使学生理解分数乘整数的意义，掌</tspan><tspan x="2066.8" y="2082">握分数乘整数的计算方法。</tspan></text>
<text id="f6" class="t"><tspan x="2066.8" y="2129.3">教学难点：引导学生总结分数乘整数的计算法</tspan><tspan x="2066.8" y="2142.6">则</tspan></text>
<text id="f7" class="t" x="2066.8" y="2189.8">教具准备：多媒体课件、</text>
<text id="f8" class="t" x="1738" y="3332.5">教学过程：</text>
<text id="f9" class="t" x="1822.3" y="2842.7">一、复习引入</text>
<text id="f10" class="t" x="1917.3" y="2270.8">1.课件出示复习题。</text>
<text id="f11" class="t"><tspan x="2042.7" y="2237">(1)列式并说出算式中的被乘数、乘数各表示</tspan><tspan x="2042.7" y="2250.4">什么?</tspan></text>
<text id="f12" class="t" x="2287" y="2244">5个12是多少? 9个11是多少? 8个6是多少?</text>
<text id="f13" class="t" x="2042.7" y="2298">(2)计算：</text>
<text id="f14" class="t p" x="2119" y="2298">+ + =  + + =</text>
<text id="f15" class="t" x="1917.3" y="2379.3">2.引出课题。</text>
<text id="f16" class="t"><tspan x="2010.3" y="2345.4">+ + 这题我们还可以怎么计算?今天我们就来</tspan><tspan x="2010.3" y="2359.5">学习分数乘法。</tspan></text>
<text id="f17" class="t" x="2010.3" y="2405.4">二：新知探究</text>
<text id="f18" class="t" x="1917.3" y="2453">1.出示课题明确学习目标。</text>
<text id="f19" class="t" x="1917.3" y="2564.8">2.课件出示自学题纲，让学生自学课本。</text>
<text id="f20" class="t"><tspan x="2137.7" y="2501">(1)分数乘以整数的意义是什么?与整数乘法的</tspan><tspan x="2137.7" y="2514.5">意义相同吗?</tspan></text>
<text id="f21" class="t"><tspan x="2137.7" y="2561.7">(2)分数乘以整数的计算方法是怎样的?它是怎</tspan><tspan x="2137.7" y="2575.7">样推导出来的?</tspan></text>
<text id="f22" class="t" x="2137.7" y="2622">(3)分数乘以整数的意义。</text>
<text id="f23" class="t p" x="1917.3" y="2884.8">3、 课件出示例1</text>
<text id="f24" class="t" x="2027.5" y="2670">教师引导学生画出线段图。</text>
<text id="f25" class="t" x="2027.5" y="2717.3">学生根据线段图列出不同的算式，并解答。</text>
<text id="f26" class="t"><tspan x="2027.5" y="2771.5">(1) 引导学生看图，理解"人跑一步的距离相当</tspan><tspan x="2027.5" y="2784.9">于袋鼠跳一下的</tspan></text>
<text id="f27" class="t"><tspan x="2272" y="2763.8">"，就是把袋鼠跳一下的距离即这一整条线段</tspan><tspan x="2272" y="2777.8">看作单位"1"。把这条线段平均分成11份，其</tspan><tspan x="2272" y="2791.9">中的2份就表示人跑一步的距离。</tspan></text>
<text id="f28" class="t"><tspan x="2027.5" y="2849">(2) 引导学生根据线段图理解，人跑一步是袋</tspan><tspan x="2027.5" y="2863">鼠跳一下的，那么"人跑3步的距离相当于袋</tspan><tspan x="2027.5" y="2876.5">鼠跳一下的几分之几?"就是求3个 是多少?</tspan></text>
<text id="f29" class="t" x="2272" y="2839.5">2/11 + 2/11 + 2/11 =</text>
<text id="f30" class="t" x="2272" y="2886">2/11 × 3 =</text>
<text id="f31" class="t" x="2027.5" y="3099.7">(3).分数乘以整数的法则。</text>
<text id="f32" class="t" x="2181" y="2955">A.导出计算方法。</text>
<text id="f33" class="t"><tspan x="2296" y="2933.9">你会计算吗?看哪些同学不用老师讲解就能依</tspan><tspan x="2296" y="2947.3">据转化思想把分数乘以整数这个新知识转为已</tspan><tspan x="2296" y="2961.3">经学过的旧知识来进行计算。(可以互相说互</tspan><tspan x="2296" y="2975.3">相看。)</tspan></text>
<text id="f34" class="t" x="2181" y="3093.3">B.归纳法则。</text>
<text id="f35" class="t"><tspan x="2273.4" y="3021.9">通过以上计算，想一想分数乘以整数怎样计算</tspan><tspan x="2273.4" y="3036">呢?</tspan></text>
<text id="f36" class="t"><tspan x="2273.4" y="3082.5">师：比一比，看哪个组的同学总结的语言准确</tspan><tspan x="2273.4" y="3096.5">又简练。</tspan></text>
<text id="f37" class="t"><tspan x="2273.4" y="3144.3">小组讨论，总结出法则：分数乘以整数，用分</tspan><tspan x="2273.4" y="3158.4">数的分子和整数相乘的积作分子，分母不变。</tspan><tspan x="2273.4" y="3171.8">(板书)</tspan></text>
<text id="f38" class="t" x="2181" y="3245">C.应用法则计算。</text>
<text id="f39" class="t" x="2296" y="3219">讨论，这两种方法哪种简单?为什么?</text>
<text id="f40" class="t"><tspan x="2296" y="3266">强调：能约分，要先约分;结果是假分数一定</tspan><tspan x="2296" y="3279.5">要化成整数或带分数。</tspan></text>
<text id="f41" class="t p" x="1917.3" y="3414">4、 教学例2</text>
<text id="f42" class="t" x="2006.9" y="3327.4">(1)出示 ×6，学生独立计算。</text>
<text id="f43" class="t"><tspan x="2006.9" y="3374">(2)根据计算结果，学生观察讨论：乘得的积</tspan><tspan x="2006.9" y="3388">是不是最简分数?应该怎么办?</tspan></text>
<text id="f44" class="t"><tspan x="2006.9" y="3435">(3)学生通过自己的想法的来约分：A、先约分</tspan><tspan x="2006.9" y="3449">再计算;B、先计算得出乘积后约分。</tspan></text>
<text id="f45" class="t"><tspan x="2006.9" y="3495.7">(4)对比，让学生体会先约分再计算的方法比</tspan><tspan x="2006.9" y="3509.8">较简便，同时向学生说明先约分的书写格式。</tspan></text>
<text id="f46" class="t" x="1822.3" y="3611">三、当堂测评(课件出示)</text>
<text id="f47" class="t" x="1967" y="3557">1.看图写算式</text>
<text id="f48" class="t" x="1967" y="3604.8">2.先说算式意义，再填空。</text>
<text id="f49" class="t"><tspan x="1967" y="3652">3.看算式，约分计算。(提醒学生，计算前先</tspan><tspan x="1967" y="3665.4">观察分数的分母与整数是否可以约分，养成先</tspan><tspan x="1967" y="3679.4">约分在计算的习惯)</tspan></text>
<text id="f50" class="t" x="1822.3" y="3823">四、学生课堂自评</text>
<text id="f51" class="t" x="1938" y="3726">1、这节课你有什么收获?</text>
<text id="f52" class="t"><tspan x="1938" y="3915">2、每个学生给自己在课堂上的表现进行评价</tspan><tspan x="1938" y="3930.5">。</tspan></text>
<text id="f53" class="t" x="2182.5" y="3773.8">板书设计</text>
<text id="f54" class="t" x="2182.5" y="3820.8">分数乘以整数</text>
<text id="f55" class="t" x="2182.5" y="3868">意义：求几个相同加数 和的简便运算。</text>
<text id="f56" class="t"><tspan x="2182.5" y="3915">法则：分数乘以整数，用分数的分子和整数相</tspan><tspan x="2182.5" y="3929.3">乘的积作分子，分母不变。</tspan></text>
<text id="f57" class="t" x="2182.5" y="3975.8">2/11 ×3</text>
<text id="f58" class="t" x="2182.5" y="4022.9">= 2×3/11</text>
<text id="f59" class="t" x="2182.5" y="4070.5">= 6/11</text>
</g>

<g id="s6">
<text id="g1" class="t" x="1765.8" y="4118.2">★ 小学六年级数学下册《比例尺》教案</text>
<text id="g2" class="t" x="1765.8" y="4165.3">★ 小学六年级下册数学教案三篇2020</text>
<text id="g3" class="t"><tspan x="1765.8" y="4212.3">★ 小学六年级下册数学教案三篇2020 - 5068</tspan><tspan x="1765.8" y="4226.7">儿童网</tspan></text>
<text id="g4" class="t" x="1765.8" y="4273.8">★ 小学六年级下册数学教学计划2021</text>
<text id="g5" class="t" x="1765.8" y="4320.8">★ 六年级上册数学《比的应用》教案</text>
<text id="g6" class="t" x="1765.8" y="4367.9">★ 六年级数学比例重点知识汇总</text>
<text id="g7" class="t" x="1765.8" y="4415">★ 六年级数学比的知识点汇总2020</text>
<text id="g8" class="t" x="1765.8" y="4462.6">★ 小学六年级数学下册教学计划2021</text>
<text id="g9" class="t" x="1765.8" y="4509.7">★ 六年级数学下册教案</text>
<text id="g10" class="t" x="1765.8" y="4556.8">★ 小学六年级数学总复习教案三篇</text>
</g>

<g id="watermarks">
<text class="w" transform="translate(633 521) rotate(-31)" y="44">树图 shutu.cn</text>
<text class="w" transform="translate(633 1535) rotate(-31)" y="44">树图 shutu.cn</text>
<text class="w" transform="translate(637 2520) rotate(-31)" y="44">树图 shutu.cn</text>
<text class="w" transform="translate(637 3518) rotate(-31)" y="44">树图 shutu.cn</text>
<text class="w" transform="translate(645 4520) rotate(-31)" y="44">树图 shutu.cn</text>
<text class="w" transform="translate(1927 521) rotate(-31)" y="44">树图 shutu.cn</text>
<text class="w" transform="translate(1917 1526) rotate(-31)" y="44">树图 shutu.cn</text>
<text class="w" transform="translate(1927 2508) rotate(-31)" y="44">树图 shutu.cn</text>
<text class="w" transform="translate(1927 3513) rotate(-31)" y="44">树图 shutu.cn</text>
<text class="w" transform="translate(1927 4497) rotate(-31)" y="44">树图 shutu.cn</text>
</g>
</g>
</svg>
